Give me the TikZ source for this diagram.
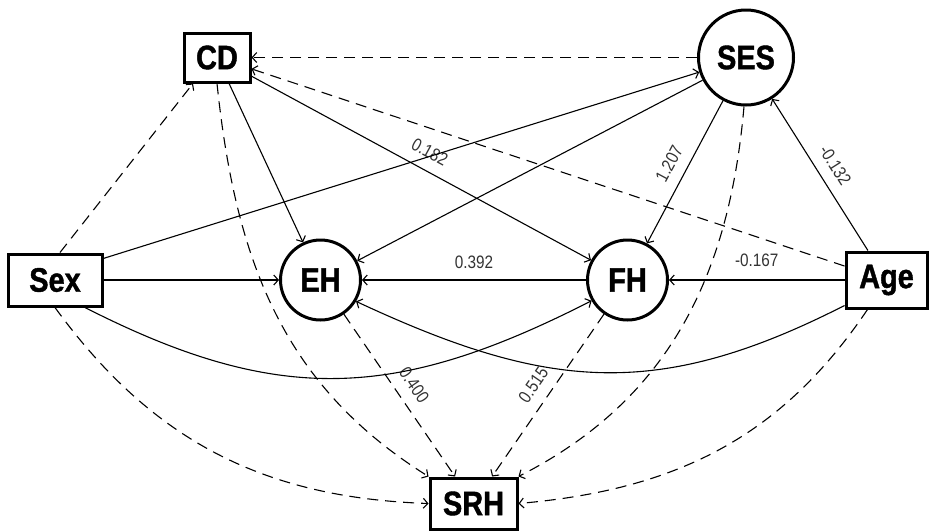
\documentclass[tikz,border=0pt]{standalone}
\usepackage{fontspec}
\setmainfont[FakeStretch=0.85, BoldFeatures={FakeBold=1.2}]{Liberation Sans}
\usetikzlibrary{arrows.meta}

\begin{document}
\begin{tikzpicture}[x=1pt,y=-1pt,
  var/.style={draw, line width=3pt, fill=white, inner sep=0pt,
    font=\fontsize{34}{40}\selectfont\bfseries},
  obs/.style={var, rectangle},
  lat/.style={var, circle},
  effect/.style={line width=1.1pt,
    -{Straight Barb[length=4.5pt,width=10pt,line width=1.1pt]}},
  resid/.style={effect, dash pattern=on 11pt off 7pt},
  coef/.style={font=\fontsize{18}{20}\selectfont, text=black!80,
    inner sep=0pt, sloped},
]
\useasboundingbox (0,0) rectangle (929,531);

% variables
\node[obs, minimum width=66pt, minimum height=49pt] (CD)  at (217,57.5)  {CD};
\node[lat, minimum size=95pt]                       (SES) at (746,57.5)  {SES};
\node[obs, minimum width=94pt, minimum height=52pt] (Sex) at (55,280)    {Sex};
\node[lat, minimum size=80pt]                       (EH)  at (320.5,280) {EH};
\node[lat, minimum size=80pt]                       (FH)  at (627.5,280) {FH};
\node[obs, minimum width=81pt, minimum height=56pt] (Age) at (886.5,280) {Age};
\node[obs, minimum width=87pt, minimum height=51pt] (SRH) at (473.5,503.5) {SRH};

% non-significant paths (dashed)
\draw[resid] (SES) -- (CD);
\draw[resid] (Age) -- (CD);
\draw[resid] ([xshift=5pt]Sex.north) -- ([xshift=-24pt]CD.south);
\draw[resid] (CD.south) to[out=-84,in=148] (SRH.north west);
\draw[resid] ([xshift=-2pt]SES.south) to[out=-95,in=27] (SRH.north east);
\draw[resid] (Sex.south) to[out=-54,in=178] (SRH.west);
\draw[resid] ([xshift=-19pt]Age.south) to[out=-124,in=5] (SRH.east);
\draw[resid] (EH) -- node[coef, above=11pt] {0.400} (SRH);
\draw[resid] (FH) -- node[coef, above=11pt] {0.515} (SRH);

% significant paths (solid)
\draw[effect] (CD) -- (EH);
\draw[effect] (CD) -- node[coef, above=11pt] {0.182} (FH);
\draw[effect] (Sex.24) -- (SES);
\draw[effect] (SES) -- (EH);
\draw[effect] (SES) -- node[coef, above=11pt] {1.207} (FH);
\draw[effect] (Age) -- node[coef, above=11pt] {-0.132} (SES);
\draw[effect] (Sex) -- (EH);
\draw[effect] (FH) -- node[coef, above=11pt] {0.392} (EH);
\draw[effect] (Age) -- node[coef, above=13pt] {-0.167} (FH);
\draw[effect] ([xshift=30pt]Sex.south) to[out=-27,in=207,looseness=1.1] (FH.210);
\draw[effect] ([yshift=4pt]Age.south west) to[out=207,in=-25,looseness=1.1] (EH.-31);
\end{tikzpicture}
\end{document}
